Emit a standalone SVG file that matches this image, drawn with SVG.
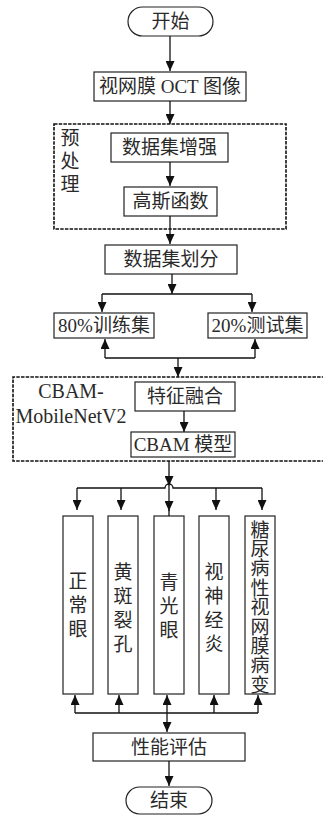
<svg xmlns="http://www.w3.org/2000/svg" width="323" height="815" viewBox="0 0 323 815">
<defs>
<marker id="ah" markerUnits="userSpaceOnUse" markerWidth="10" markerHeight="9" refX="10" refY="4.5" orient="auto">
<path d="M0,0 L10,4.5 L0,9 z" fill="#111"/>
</marker>
<style>
.box{fill:#fff;stroke:#222;stroke-width:1.2}
.dash{fill:none;stroke:#111;stroke-width:1.6;stroke-dasharray:3.5 1.2}
.ln{fill:none;stroke:#111;stroke-width:1.3}
.ar{fill:none;stroke:#111;stroke-width:1.3;marker-end:url(#ah)}
text{font-family:"Liberation Serif","Noto Sans CJK SC",serif;font-size:19px;fill:#2a2a2a;text-anchor:middle;dominant-baseline:central}
.lat{font-size:20px;dominant-baseline:auto}
</style>
</defs>
<rect width="323" height="815" fill="#fff"/>
<g id="start"><rect class="box" x="128" y="7" width="85" height="29" rx="14.5"/><text x="170.5" y="21.5">开始</text></g>
<g id="oct"><rect class="box" x="94" y="72" width="152" height="29"/><text x="170" y="86.5">视网膜 OCT 图像</text></g>
<g id="preprocess"><rect class="dash" x="54" y="124" width="232" height="105"/><text x="70" y="138">预</text><text x="70" y="161">处</text><text x="70" y="184">理</text></g>
<g id="augment"><rect class="box" x="111" y="133" width="117" height="29"/><text x="169.5" y="147.5">数据集增强</text></g>
<g id="gauss"><rect class="box" x="124" y="187" width="93" height="29"/><text x="170.5" y="201.5">高斯函数</text></g>
<g id="split"><rect class="box" x="105" y="245" width="132" height="29"/><text x="171" y="259.5">数据集划分</text></g>
<g id="train"><rect class="box" x="54" y="313" width="100" height="25"/><text x="104" y="325.5">80%训练集</text></g>
<g id="test"><rect class="box" x="208" y="313" width="99" height="25"/><text x="257.5" y="325.5">20%测试集</text></g>
<g id="cbam-mobilenet"><path class="dash" d="M330,377 H13 V461 H330"/><text class="lat" x="71" y="398">CBAM-</text><text class="lat" x="71" y="423">MobileNetV2</text></g>
<g id="fusion"><rect class="box" x="135" y="382" width="100" height="29"/><text x="185" y="396.5">特征融合</text></g>
<g id="cbam"><rect class="box" x="131" y="432" width="104" height="25"/><text x="183" y="444.5">CBAM 模型</text></g>
<g id="normal"><rect class="box" x="63" y="516" width="30" height="178"/><text x="78" y="581">正</text><text x="78" y="605">常</text><text x="78" y="629">眼</text></g>
<g id="macular"><rect class="box" x="108" y="516" width="30" height="178"/><text x="123" y="572">黄</text><text x="123" y="596">斑</text><text x="123" y="620">裂</text><text x="123" y="644">孔</text></g>
<g id="glaucoma"><rect class="box" x="154" y="516" width="30" height="178"/><text x="169" y="582">青</text><text x="169" y="606">光</text><text x="169" y="630">眼</text></g>
<g id="neuritis"><rect class="box" x="199" y="516" width="30" height="178"/><text x="214" y="572">视</text><text x="214" y="596">神</text><text x="214" y="620">经</text><text x="214" y="644">炎</text></g>
<g id="dr"><rect class="box" x="245" y="516" width="30" height="178"/>
<text x="260" y="530">糖</text><text x="260" y="549.4">尿</text><text x="260" y="568.8">病</text><text x="260" y="588.2">性</text><text x="260" y="607.6">视</text><text x="260" y="627">网</text><text x="260" y="646.4">膜</text><text x="260" y="665.8">病</text><text x="260" y="685.2">变</text></g>
<g id="eval"><rect class="box" x="93" y="733" width="152" height="28"/><text x="169" y="747">性能评估</text></g>
<g id="end"><rect class="box" x="126" y="787" width="86" height="27" rx="13.5"/><text x="169" y="800.5">结束</text></g>
<g id="connectors">
<line class="ar" x1="170" y1="36" x2="170" y2="71"/>
<line class="ar" x1="170" y1="101" x2="170" y2="124"/>
<line class="ar" x1="170" y1="162" x2="170" y2="186"/>
<line class="ar" x1="170" y1="216" x2="170" y2="244"/>
<line class="ar" x1="172" y1="274" x2="172" y2="294"/>
<path class="ln" d="M102,294 H252"/>
<line class="ar" x1="102" y1="294" x2="102" y2="312"/>
<line class="ar" x1="252" y1="294" x2="252" y2="312"/>
<path class="ln" d="M105,358 H255"/>
<line class="ar" x1="105" y1="358" x2="105" y2="339"/>
<line class="ar" x1="255" y1="358" x2="255" y2="339"/>
<line class="ar" x1="178" y1="358" x2="178" y2="377"/>
<line class="ar" x1="184" y1="411" x2="184" y2="432"/>
<line class="ar" x1="169" y1="461" x2="169" y2="486"/>
<path class="ln" d="M77,488 H165 A4,4 0 0 1 173,488 H262"/>
<line class="ar" x1="77" y1="488" x2="77" y2="510"/>
<line class="ar" x1="121" y1="488" x2="121" y2="510"/>
<line class="ar" x1="169" y1="486" x2="169" y2="511"/>
<line class="ln" x1="169" y1="510" x2="169" y2="516"/>
<line class="ar" x1="216" y1="488" x2="216" y2="510"/>
<line class="ar" x1="262" y1="488" x2="262" y2="510"/>
<path class="ln" d="M75,713 H258"/>
<line class="ar" x1="75" y1="713" x2="75" y2="695"/>
<line class="ar" x1="119" y1="713" x2="119" y2="695"/>
<line class="ar" x1="167" y1="713" x2="167" y2="695"/>
<line class="ar" x1="214" y1="713" x2="214" y2="695"/>
<line class="ar" x1="258" y1="713" x2="258" y2="695"/>
<line class="ar" x1="167" y1="713" x2="167" y2="732"/>
<line class="ar" x1="169" y1="761" x2="169" y2="786"/>
</g>
</svg>
